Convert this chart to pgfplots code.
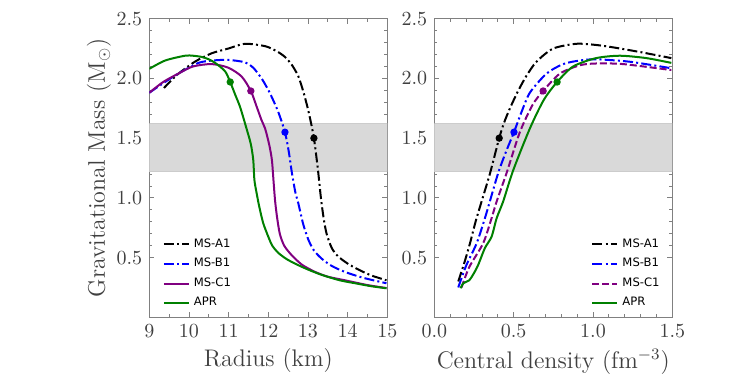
\documentclass[border=0pt]{standalone}
\usepackage{fontspec}
\usepackage{pgfplots}
\pgfplotsset{compat=1.18}
\newfontfamily\legfont{DejaVu Sans}
\definecolor{mspurple}{HTML}{800080}
\definecolor{msgreen}{HTML}{008000}
\definecolor{txtgray}{HTML}{404040}

\tikzset{
  dashdotted/.style={dash pattern=on 5pt off 1.6pt on 1pt off 1.6pt},
  mydashed/.style={dash pattern=on 3.5pt off 1.5pt},
}

\pgfplotsset{
  msaxis/.style={
    scale only axis, width=119pt, height=149.3pt,
    ymin=0, ymax=2.5, ytick={0.5,1,1.5,2,2.5}, minor y tick num=4,
    tick align=inside, xtick pos=both, ytick pos=both,
    axis line style={gray}, every tick/.style={gray},
    major tick length=2.5pt, minor tick length=1.5pt,
    tick label style={font=\fontsize{10}{12}\selectfont, text=txtgray},
    yticklabel style={/pgf/number format/.cd, fixed, fixed zerofill, precision=1},
    label style={font=\fontsize{12}{14}\selectfont, text=txtgray},
    xlabel shift=-1pt,
    legend style={draw=none, fill=none, font=\legfont\fontsize{5.8}{7}\selectfont},
    legend cell align=left,
    legend image code/.code={\draw[##1] (0pt,0pt) -- (12.5pt,0pt);},
    every axis plot/.append style={line width=1pt},
  },
  curve/.style={smooth, tension=0.45},
  dots/.style={only marks, mark=*, mark size=1.3pt, forget plot},
}

\begin{document}
\begin{tikzpicture}
\begin{axis}[msaxis, at={(0,0)},
    xmin=9, xmax=15, xtick={9,...,15}, minor x tick num=1,
    xlabel={Radius (km)}, ylabel={Gravitational Mass (M$_\odot$)},
    ylabel shift=-4pt,
    legend style={at={(0.03,0.0)}, anchor=south west}]
  \addplot[forget plot, fill=gray!30, draw=gray!40, line width=0.6pt]
    coordinates {(9,1.22) (15,1.22) (15,1.62) (9,1.62)} -- cycle;
  \addplot[curve, black, dashdotted] coordinates {
    (9.37,1.92) (9.7,2.03) (10.15,2.14) (10.57,2.21) (10.99,2.25) (11.41,2.29)
    (11.92,2.27) (12.2,2.23) (12.42,2.18) (12.6,2.11) (12.76,2.015) (12.9,1.87)
    (13.03,1.70) (13.15,1.50) (13.25,1.24) (13.33,0.99) (13.40,0.82) (13.47,0.70)
    (13.6,0.58) (13.76,0.51) (14.0,0.45) (14.27,0.40) (14.6,0.35) (14.98,0.31)};
  \addplot[curve, blue, dashdotted] coordinates {
    (9.0,1.88) (9.35,1.96) (9.73,2.04) (10.24,2.13) (10.6,2.15) (10.99,2.155)
    (11.41,2.135) (11.62,2.09) (11.85,1.99) (12.05,1.87) (12.25,1.72)
    (12.42,1.55) (12.52,1.38) (12.59,1.22) (12.68,1.05) (12.76,0.95) (12.88,0.78)
    (13.01,0.65) (13.15,0.56) (13.35,0.49) (13.6,0.43) (13.93,0.38) (14.4,0.33)
    (14.98,0.285)};
  \addplot[curve, mspurple] coordinates {
    (9.0,1.88) (9.35,1.97) (9.73,2.04) (10.1,2.10) (10.57,2.12) (10.99,2.09)
    (11.33,2.015) (11.56,1.895) (11.7,1.77) (11.83,1.65)
    (11.92,1.58) (12.02,1.45) (12.09,1.32) (12.13,1.15) (12.17,0.98) (12.22,0.84)
    (12.29,0.70) (12.4,0.60) (12.59,0.52) (12.85,0.44) (13.18,0.38) (13.5,0.34)
    (13.93,0.31) (14.5,0.27) (14.98,0.245)};
  \addplot[curve, msgreen] coordinates {
    (9.0,2.08) (9.4,2.15) (9.9,2.19) (10.1,2.19) (10.32,2.18) (10.5,2.16)
    (10.66,2.13) (10.91,2.06) (11.04,1.97) (11.17,1.86) (11.29,1.76) (11.46,1.57)
    (11.56,1.45) (11.62,1.32) (11.65,1.15) (11.7,1.05) (11.77,0.93) (11.87,0.79)
    (12.0,0.675) (12.1,0.60) (12.25,0.54) (12.45,0.49) (12.67,0.45) (13.0,0.40)
    (13.35,0.355) (13.8,0.31) (14.19,0.285) (14.6,0.26) (14.98,0.243)};
  \addplot[dots, black] coordinates {(13.15,1.50)};
  \addplot[dots, blue] coordinates {(12.42,1.55)};
  \addplot[dots, mspurple] coordinates {(11.56,1.895)};
  \addplot[dots, msgreen] coordinates {(11.04,1.97)};
  \legend{MS-A1,MS-B1,MS-C1,APR}
\end{axis}

\begin{axis}[msaxis, at={(142.5pt,0)},
    xmin=0, xmax=1.5, xtick={0,0.5,1,1.5}, minor x tick num=4,
    xticklabel style={/pgf/number format/.cd, fixed, fixed zerofill, precision=1},
    xlabel={Central density (fm$^{-3}$)},
    legend style={at={(0.99,0.0)}, anchor=south east}]
  \addplot[forget plot, fill=gray!30, draw=gray!40, line width=0.6pt]
    coordinates {(0,1.22) (1.5,1.22) (1.5,1.62) (0,1.62)} -- cycle;
  \addplot[curve, black, dashdotted] coordinates {
    (0.151,0.30) (0.19,0.46) (0.225,0.62) (0.26,0.80) (0.298,0.97) (0.35,1.20)
    (0.409,1.50) (0.44,1.63) (0.48,1.76) (0.53,1.90) (0.58,2.02) (0.644,2.14)
    (0.749,2.25) (0.896,2.29) (1.02,2.28) (1.127,2.26) (1.3,2.22) (1.494,2.17)};
  \addplot[curve, blue, dashdotted] coordinates {
    (0.151,0.25) (0.2,0.43) (0.267,0.62) (0.319,0.83) (0.35,0.97) (0.403,1.21)
    (0.45,1.38) (0.502,1.55) (0.55,1.72) (0.602,1.88) (0.707,2.04) (0.812,2.12)
    (0.917,2.15) (1.02,2.16) (1.23,2.14) (1.494,2.085)};
  \addplot[curve, mspurple, mydashed] coordinates {
    (0.172,0.25) (0.22,0.42) (0.308,0.62) (0.361,0.83) (0.393,0.97) (0.456,1.21)
    (0.539,1.55) (0.62,1.78) (0.686,1.895) (0.791,2.04) (0.917,2.11) (1.02,2.125)
    (1.19,2.12) (1.494,2.07)};
  \addplot[curve, msgreen] coordinates {
    (0.166,0.243) (0.183,0.285) (0.22,0.31) (0.25,0.37) (0.277,0.44) (0.319,0.58)
    (0.361,0.675) (0.393,0.83) (0.434,0.97) (0.497,1.23) (0.602,1.58)
    (0.69,1.82) (0.774,1.97) (0.875,2.10) (1.02,2.17) (1.17,2.19) (1.337,2.17)
    (1.494,2.13)};
  \addplot[dots, black] coordinates {(0.409,1.50)};
  \addplot[dots, blue] coordinates {(0.502,1.55)};
  \addplot[dots, mspurple] coordinates {(0.686,1.895)};
  \addplot[dots, msgreen] coordinates {(0.774,1.97)};
  \legend{MS-A1,MS-B1,MS-C1,APR}
\end{axis}
\pgfresetboundingbox
\useasboundingbox (-74.65pt,-28.35pt) rectangle (298.85pt,158.65pt);
\end{tikzpicture}
\end{document}
